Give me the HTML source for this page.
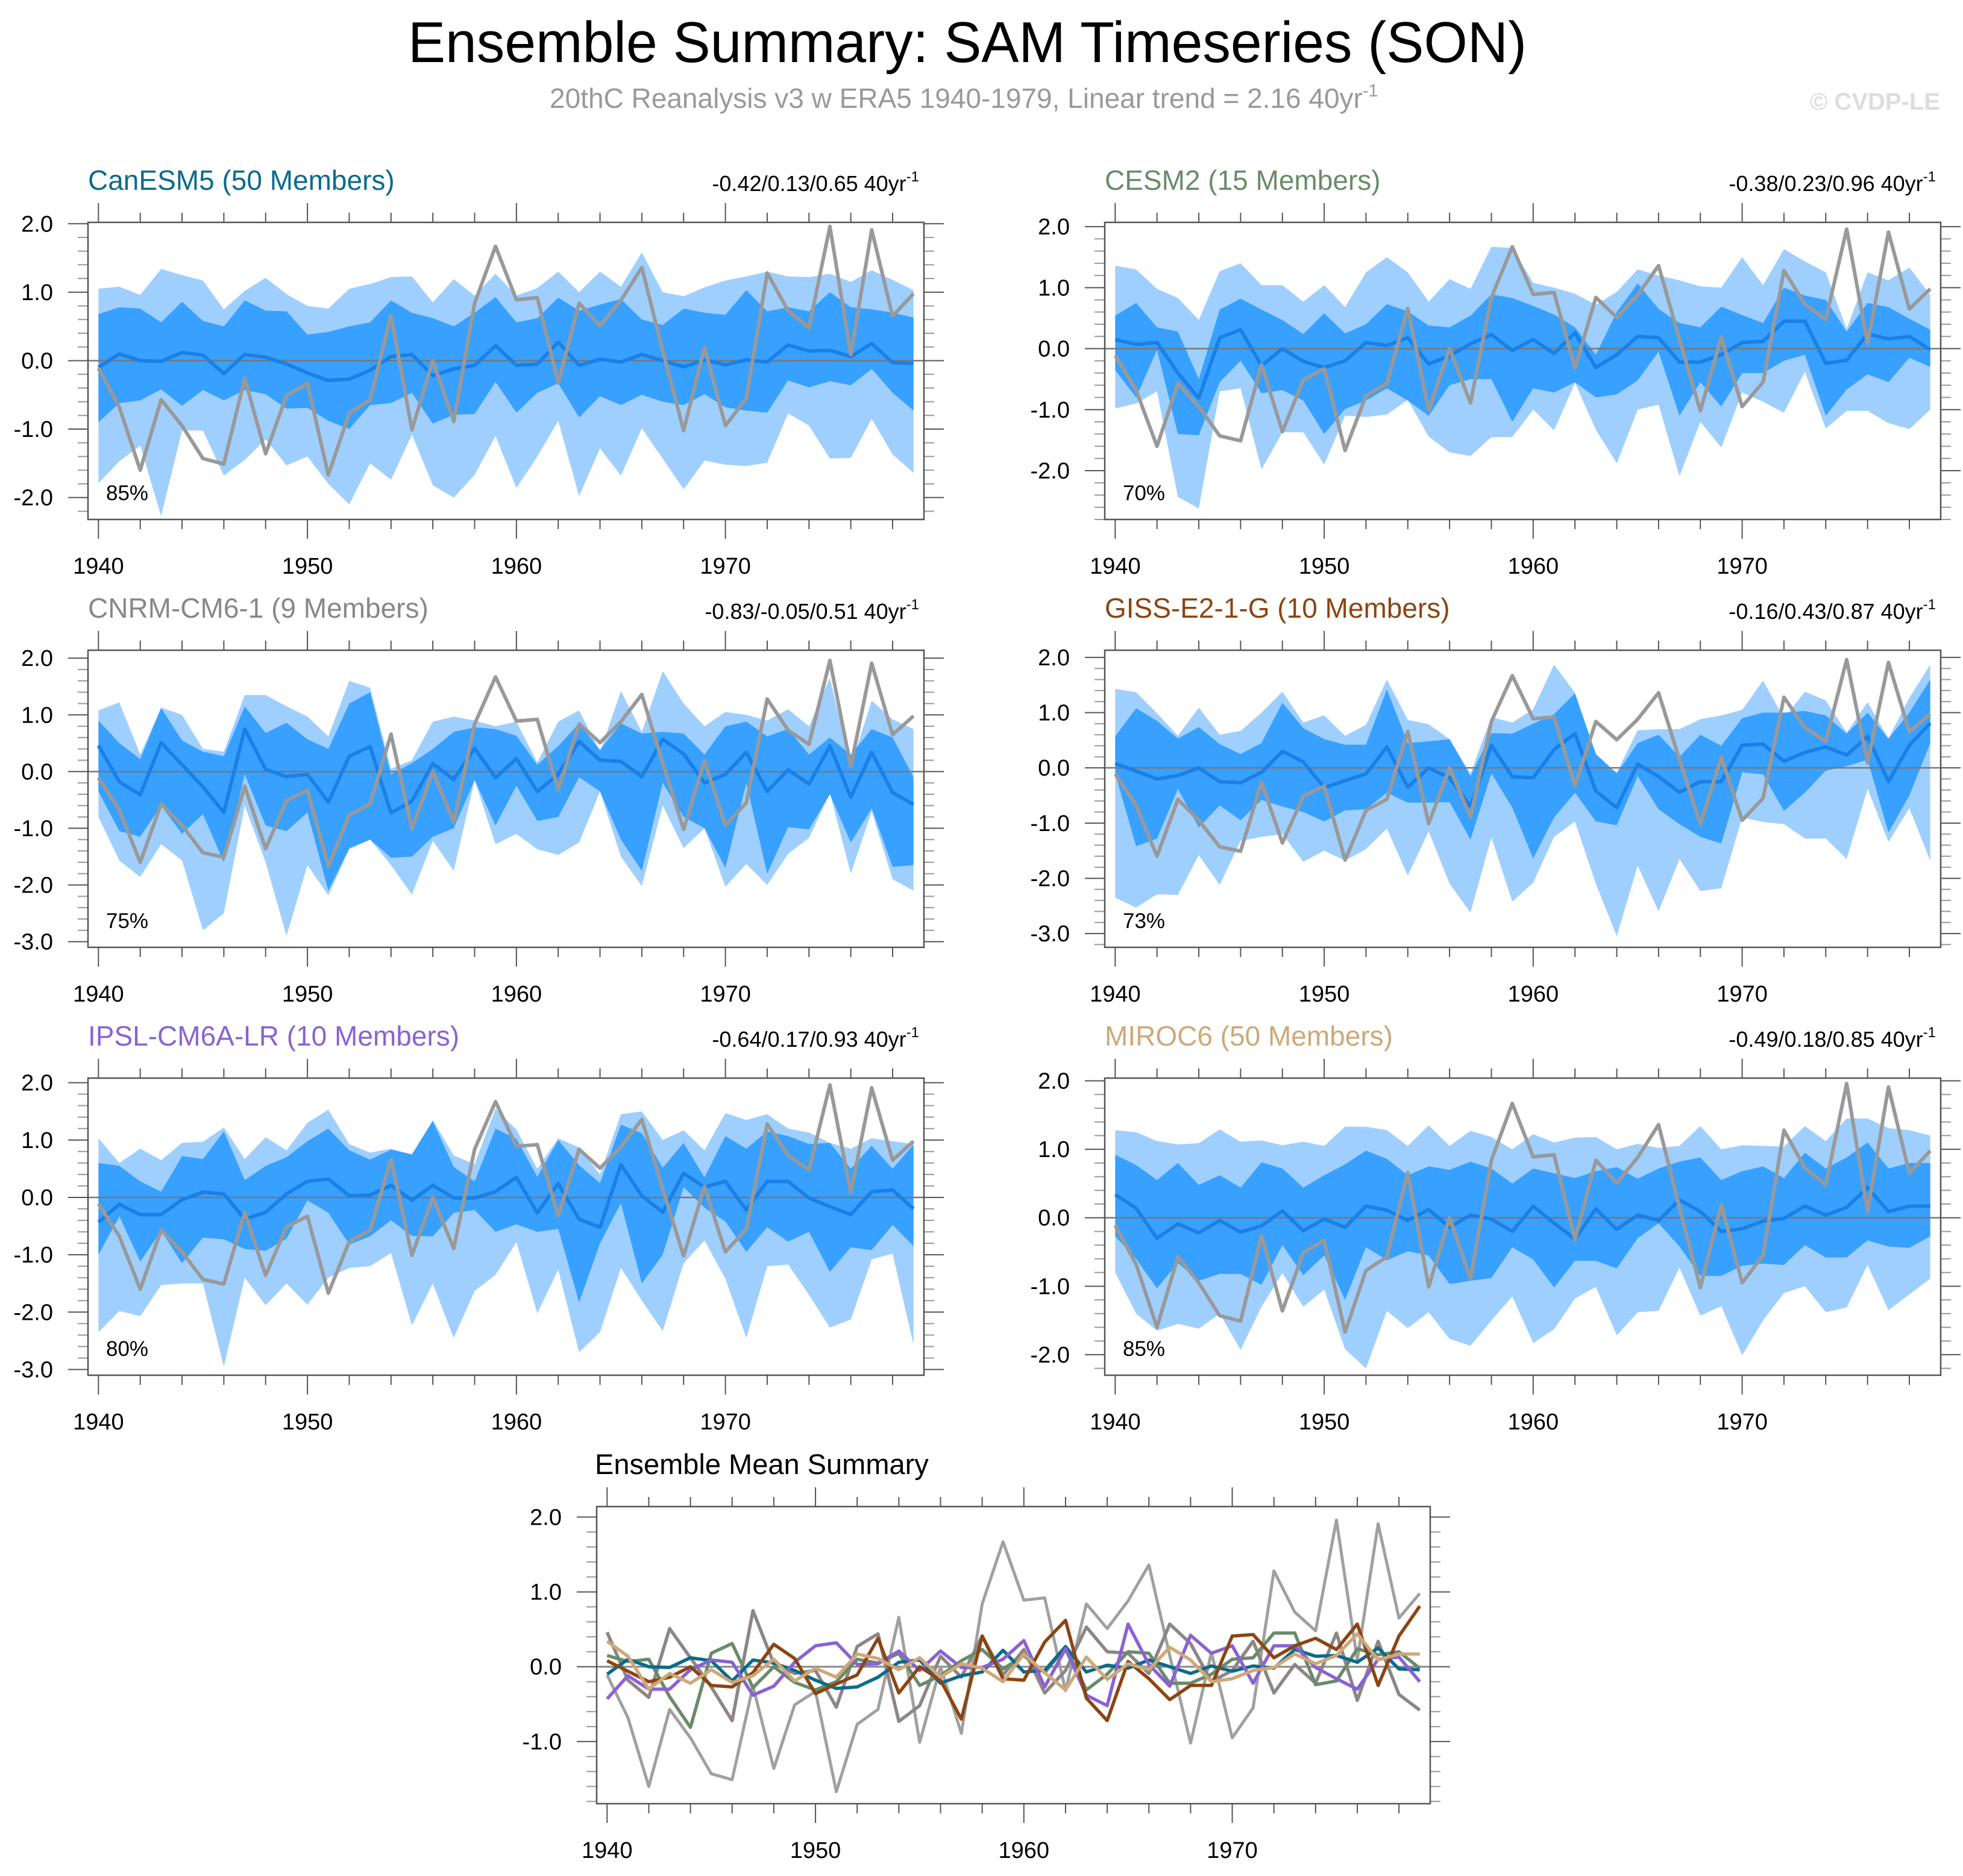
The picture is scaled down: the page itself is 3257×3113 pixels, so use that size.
<!DOCTYPE html>
<html><head><meta charset="utf-8"><title>Ensemble Summary: SAM Timeseries (SON)</title>
<style>
html,body{margin:0;padding:0;background:#fff;}
svg{display:block;font-family:"Liberation Sans",Arial,sans-serif;}
</style></head>
<body>
<svg id="fig" xmlns="http://www.w3.org/2000/svg" width="3257" height="3113" viewBox="0 0 3257 3113">
<rect x="0" y="0" width="3257" height="3113" fill="#fff"/>
<text x="677" y="103" font-size="96" textLength="1856" lengthAdjust="spacingAndGlyphs" fill="#000">Ensemble Summary: SAM Timeseries (SON)</text>
<text x="912" y="179" font-size="46" fill="#999">20thC Reanalysis v3 w ERA5 1940-1979, Linear trend = 2.16 40yr<tspan font-size="29" dy="-19">-1</tspan></text>
<text x="3219" y="182" font-size="40" font-weight="bold" fill="#ddd" text-anchor="end">© CVDP-LE</text>
<g id="panels"></g>
</svg>
<script>
const years = [];
for (let y = 1940; y <= 1979; y++) years.push(y);

const obs = [-0.11,-0.68,-1.6,-0.57,-0.95,-1.43,-1.51,-0.26,-1.36,-0.51,-0.33,-1.67,-0.77,-0.57,0.66,-1.01,0.0,-0.89,0.84,1.67,0.89,0.92,-0.32,0.84,0.51,0.88,1.36,0.15,-1.02,0.19,-0.95,-0.55,1.28,0.73,0.48,1.96,0.09,1.91,0.65,0.98];

const canMean = [-0.1,0.1,0.0,-0.01,0.12,0.08,-0.19,0.09,0.05,-0.05,-0.18,-0.29,-0.27,-0.14,0.06,0.09,-0.22,-0.12,-0.07,0.22,-0.07,-0.05,0.27,-0.07,0.02,-0.02,0.09,0.0,-0.09,0.01,-0.06,0.01,-0.02,0.23,0.14,0.15,0.06,0.25,-0.03,-0.04];
const canInHi = [0.68,0.78,0.76,0.56,0.86,0.58,0.5,0.88,0.73,0.72,0.38,0.42,0.5,0.56,0.88,0.7,0.62,0.5,0.7,0.93,0.56,0.62,0.92,0.73,0.82,0.9,0.6,0.52,0.76,0.7,0.67,1.03,0.72,0.78,0.72,1.0,0.78,0.75,0.7,0.63];
const canInLo = [-0.9,-0.62,-0.58,-0.42,-0.66,-0.43,-0.58,-0.43,-0.49,-0.7,-0.69,-0.88,-1.0,-0.65,-0.62,-0.47,-0.92,-0.79,-0.78,-0.31,-0.76,-0.47,-0.33,-0.83,-0.52,-0.65,-0.5,-0.6,-0.65,-0.49,-0.68,-0.73,-0.76,-0.29,-0.39,-0.3,-0.36,-0.12,-0.47,-0.73];
const canOutHi = [1.05,1.08,0.96,1.34,1.25,1.17,0.75,1.02,1.21,0.97,0.8,0.76,1.05,1.12,1.22,1.23,0.85,1.19,0.95,1.27,0.95,1.06,1.3,1.0,1.3,1.08,1.58,1.0,0.94,1.07,1.17,1.23,1.3,1.23,1.22,1.27,1.15,1.32,1.18,1.03];
const canOutLo = [-1.79,-1.47,-1.24,-2.27,-1.02,-1.02,-1.68,-1.45,-1.15,-1.53,-1.4,-1.8,-2.1,-1.5,-1.74,-1.08,-1.82,-2.0,-1.67,-1.1,-1.86,-1.4,-0.88,-1.98,-1.28,-1.68,-0.99,-1.43,-1.88,-1.46,-1.52,-1.54,-1.49,-0.77,-0.95,-1.43,-1.42,-0.85,-1.37,-1.64];

const cesMean = [0.15,0.07,0.1,-0.4,-0.81,0.18,0.31,-0.28,0.0,-0.21,-0.31,-0.2,0.1,0.05,0.18,-0.25,-0.12,0.08,0.23,-0.03,0.15,-0.08,0.26,-0.31,-0.1,0.2,0.18,-0.22,-0.22,-0.1,0.1,0.12,0.45,0.45,-0.24,-0.19,0.24,0.16,0.2,-0.02];
const cesInHi = [0.54,0.75,0.35,0.28,-0.5,0.64,0.82,0.64,0.47,0.24,0.58,0.25,0.4,0.73,0.61,0.38,0.35,0.54,0.89,0.83,0.7,0.56,0.35,-0.1,0.6,1.07,0.65,0.42,0.35,0.69,0.55,0.42,1.0,0.87,0.8,0.28,0.75,0.68,0.49,0.31];
const cesInLo = [-0.35,-0.8,-0.02,-1.4,-1.42,-0.55,-0.2,-0.73,-0.68,-0.85,-1.4,-0.99,-0.85,-0.65,-0.85,-1.1,-0.6,-0.5,-0.5,-1.2,-0.65,-0.72,-0.55,-0.8,-0.75,-0.52,-0.05,-1.1,-0.55,-0.95,-0.4,-0.4,-0.2,-0.1,-1.1,-0.67,-0.42,-0.55,-0.15,-0.3];
const cesOutHi = [1.36,1.3,0.98,0.83,0.47,1.27,1.4,1.04,1.04,0.77,1.04,0.68,1.25,1.5,1.25,0.77,1.14,0.98,1.67,1.65,1.08,1.0,0.9,0.72,0.93,1.3,1.2,1.12,1.02,1.0,1.5,1.04,1.63,1.43,1.25,0.32,1.25,1.12,1.33,0.88];
const cesOutLo = [-0.98,-0.9,-0.7,-2.43,-2.62,-0.7,-0.65,-1.98,-1.37,-1.37,-1.9,-1.1,-1.12,-1.08,-0.84,-1.44,-1.7,-1.76,-1.45,-1.45,-1.0,-1.34,-0.56,-1.33,-1.88,-1.0,-0.92,-2.09,-1.2,-1.62,-0.72,-0.87,-1.05,-0.38,-1.31,-1.02,-1.02,-1.22,-1.32,-1.0];

const cnrMean = [0.46,-0.18,-0.41,0.51,0.12,-0.27,-0.72,0.75,0.04,-0.09,-0.05,-0.54,0.27,0.44,-0.73,-0.52,0.14,-0.14,0.41,-0.11,0.23,-0.35,-0.05,0.53,0.2,0.18,-0.09,0.57,0.31,-0.2,-0.05,0.34,-0.35,0.03,-0.22,0.45,-0.45,0.34,-0.37,-0.58];
const cnrInHi = [0.9,0.5,0.22,1.12,0.55,0.35,0.27,1.15,0.68,0.86,0.57,0.4,1.2,1.4,-0.05,0.15,0.4,0.7,0.78,0.75,0.63,0.12,0.45,0.85,0.38,0.85,0.67,0.7,0.67,0.3,0.8,0.88,0.62,0.75,0.3,0.6,0.3,0.75,0.6,-0.1];
const cnrInLo = [-0.35,-1.05,-1.15,-0.6,-1.1,-0.75,-1.6,-0.05,-0.95,-1.05,-0.72,-2.1,-1.35,-1.2,-1.52,-1.5,-1.15,-1.0,-0.15,-0.95,-0.25,-0.87,-0.8,-0.1,-0.35,-1.2,-1.75,-0.2,-0.8,-1.0,-1.7,-0.2,-1.8,-0.98,-1.02,-0.4,-1.25,-0.65,-1.68,-1.65];
const cnrOutHi = [1.08,1.22,0.3,1.13,1.0,0.4,0.35,1.35,1.35,1.15,0.97,0.62,1.6,1.48,0.05,0.2,0.88,0.97,0.9,0.8,0.88,0.16,0.88,1.08,0.35,1.42,0.7,1.77,1.2,0.8,1.05,1.0,0.9,1.1,0.8,1.65,0.1,1.25,0.92,0.75];
const cnrOutLo = [-0.8,-1.57,-1.86,-1.28,-1.57,-2.8,-2.5,-0.6,-1.6,-2.9,-1.65,-2.18,-1.37,-1.2,-1.65,-2.17,-1.22,-1.75,-0.15,-1.28,-1.1,-1.37,-1.47,-1.25,-0.35,-1.5,-2.02,-0.6,-1.35,-1.0,-2.03,-1.63,-2.0,-1.45,-1.17,-0.38,-1.8,-0.7,-1.9,-2.1];

const gisMean = [0.08,-0.06,-0.2,-0.14,0.0,-0.25,-0.27,-0.08,0.3,0.11,-0.36,-0.23,-0.11,0.38,-0.35,0.0,-0.18,-0.7,0.41,-0.16,-0.18,0.33,0.62,-0.42,-0.72,0.07,-0.16,-0.44,-0.25,-0.25,0.41,0.43,0.12,0.28,0.38,0.23,0.57,-0.25,0.41,0.81];
const gisInHi = [0.57,1.08,0.85,0.53,0.74,0.43,0.25,0.45,1.18,0.72,0.52,0.42,0.42,1.42,0.45,0.48,0.52,-0.15,0.63,0.62,0.8,0.97,1.35,0.25,-0.1,0.45,0.6,0.2,0.6,0.4,0.9,1.0,1.0,1.03,0.95,0.62,1.0,0.53,1.0,1.6];
const gisInLo = [-0.1,-1.42,-1.28,-0.38,-1.08,-0.68,-0.95,-0.58,-0.7,-0.8,-0.97,-0.77,-0.75,-0.45,-0.63,-0.63,-0.62,-1.3,-0.1,-0.72,-1.64,-0.9,-0.45,-0.97,-1.04,-0.15,-0.75,-1.02,-1.25,-1.37,-0.08,-0.12,-0.78,-0.45,-0.05,0.03,0.15,-1.17,-0.5,0.45];
const gisOutHi = [1.43,1.37,0.99,0.58,1.09,0.6,0.67,1.0,1.38,0.82,0.95,0.58,0.78,1.6,0.87,0.79,0.52,-0.1,0.92,0.82,1.06,1.87,1.36,0.18,-0.08,0.68,0.7,0.7,0.88,0.95,1.05,1.58,0.9,1.38,1.22,0.64,1.19,0.53,1.27,1.87];
const gisOutLo = [-2.35,-2.53,-2.29,-2.3,-1.58,-2.12,-1.32,-1.25,-1.2,-1.7,-1.5,-1.68,-1.47,-1.1,-1.95,-1.15,-2.1,-2.62,-1.26,-2.42,-2.08,-1.25,-0.97,-2.1,-3.05,-1.77,-2.6,-1.65,-2.23,-2.18,-0.9,-0.98,-1.02,-1.28,-1.28,-1.65,-0.38,-1.34,-0.73,-1.68];

const ipsMean = [-0.43,-0.12,-0.3,-0.3,-0.04,0.09,0.06,-0.38,-0.26,0.06,0.28,0.32,0.03,0.04,0.21,-0.05,0.21,-0.01,-0.01,0.1,0.35,-0.27,0.24,-0.38,-0.52,0.57,0.03,-0.26,0.42,0.18,0.28,-0.22,0.28,0.28,-0.01,-0.16,-0.3,0.1,0.13,-0.2];
const ipsInHi = [0.6,0.55,0.28,0.1,0.72,0.67,1.15,0.3,0.55,0.7,0.98,1.2,0.82,0.66,0.83,0.75,1.33,0.53,0.28,1.2,1.02,0.36,1.0,0.56,0.25,1.27,1.12,0.52,0.95,0.35,1.07,0.85,1.15,1.07,0.93,0.95,0.5,0.9,0.5,0.92];
const ipsInLo = [-1.0,-0.33,-1.12,-0.58,-1.15,-0.7,-0.73,-0.9,-0.93,-0.72,-0.05,-0.27,-0.82,-0.68,-0.4,-0.67,-0.68,-0.27,-0.22,-0.6,-0.47,-0.6,-0.55,-1.83,-0.8,-0.1,-1.5,-1.0,0.18,-0.18,-0.42,-0.95,-0.52,-0.77,-0.6,-1.3,-0.87,-0.92,-0.48,-0.85];
const ipsOutHi = [1.03,0.6,0.85,0.65,0.95,0.97,1.22,0.67,1.05,0.82,1.3,1.53,0.93,0.78,0.85,0.75,1.35,0.73,0.58,1.55,1.18,0.5,1.03,0.87,0.4,1.45,1.5,1.0,1.17,0.82,1.47,1.35,1.45,1.2,1.13,0.95,0.85,1.03,0.98,0.93];
const ipsOutLo = [-2.35,-1.98,-2.07,-1.53,-1.5,-1.5,-2.95,-1.4,-1.88,-1.5,-1.87,-1.4,-1.23,-1.2,-0.97,-2.23,-1.5,-2.45,-1.63,-1.35,-0.78,-2.02,-1.26,-2.7,-2.35,-1.23,-1.8,-2.33,-1.15,-0.75,-1.42,-2.45,-1.2,-1.17,-1.7,-2.27,-2.13,-1.08,-0.98,-2.57];

const mirMean = [0.34,0.14,-0.3,-0.09,-0.22,-0.04,-0.21,-0.12,0.1,-0.19,-0.02,-0.14,0.17,0.11,-0.04,0.12,-0.14,0.04,-0.02,-0.2,0.17,-0.08,-0.31,0.13,-0.17,0.04,-0.04,0.26,0.09,-0.2,-0.16,-0.05,-0.01,0.17,0.04,0.15,0.44,0.09,0.17,0.17];
const mirInHi = [0.92,0.77,0.55,0.8,0.48,0.62,0.44,0.81,0.72,0.44,0.62,0.78,0.98,0.86,0.62,0.75,0.7,0.82,0.72,0.5,0.72,0.65,0.58,0.68,0.74,0.57,0.72,0.82,0.88,0.55,0.68,0.75,0.58,0.95,0.72,0.88,1.1,0.72,0.8,0.8];
const mirInLo = [-0.27,-0.6,-1.03,-0.66,-0.92,-0.82,-0.82,-0.98,-0.4,-0.84,-0.55,-1.2,-0.43,-0.62,-0.49,-0.55,-0.97,-0.92,-0.88,-0.43,-0.61,-1.02,-0.63,-0.63,-0.74,-0.3,-0.08,-0.42,-0.85,-0.85,-0.7,-0.67,-0.69,-0.4,-0.58,-0.58,-0.33,-0.42,-0.44,-0.27];
const mirOutHi = [1.28,1.25,1.12,1.07,1.09,1.29,1.11,1.13,1.06,1.11,1.05,1.33,1.33,1.28,1.05,1.35,1.05,1.27,1.18,1.0,1.22,1.1,1.17,1.18,1.0,1.08,1.02,1.05,1.34,1.0,1.06,1.05,1.04,1.34,1.12,1.45,1.45,1.31,1.28,1.2];
const mirOutLo = [-0.8,-1.4,-1.65,-1.55,-1.62,-1.4,-1.93,-1.3,-0.81,-1.3,-1.05,-1.92,-2.2,-1.36,-1.61,-1.38,-1.77,-1.87,-1.5,-1.15,-1.83,-1.63,-1.18,-1.01,-1.72,-1.38,-1.36,-0.73,-1.43,-1.29,-2.01,-1.5,-1.1,-1.0,-1.38,-1.31,-0.69,-1.35,-1.12,-0.89];

const xTickYears = [1940,1950,1960,1970];
const yTicks5 = [-2,-1,0,1,2];
const yTicks6 = [-3,-2,-1,0,1,2];
const yTicksSum = [-1,0,1,2];

const NS = 'http://www.w3.org/2000/svg';
const root = document.getElementById('panels');
function mk(tag, attrs, parent) {
  const e = document.createElementNS(NS, tag);
  for (const k in attrs) e.setAttribute(k, attrs[k]);
  (parent || root).appendChild(e);
  return e;
}
function fmt(v) { return v.toFixed(1); }

function drawAxes(g, P, ticks, slug) {
  const X = yr => P.x0 + (yr - 1939.5) / 40 * P.w;
  const Y = v => P.y0 + (P.ymax - v) / (P.ymax - P.ymin) * P.h;
  const ax = mk('g', {}, g);
  
  
  for (let yr = 1940; yr <= 1978; yr += 2) {
    const major = yr % 10 === 0;
    const L = major ? 32 : 16;
    const xx = X(yr);
    mk('line', {x1: xx, x2: xx, y1: P.y0, y2: P.y0 - L, stroke: '#555', 'stroke-width': 2}, ax);
    mk('line', {x1: xx, x2: xx, y1: P.y0 + P.h, y2: P.y0 + P.h + L, stroke: '#555', 'stroke-width': 2}, ax);
  }
  xTickYears.forEach(yr => {
    const t = mk('text', {x: X(yr), y: P.y0 + P.h + 90, 'font-size': 38, 'text-anchor': 'middle', fill: '#000'}, ax);
    t.textContent = String(yr);
    
    
  });
  for (let k = Math.ceil(P.ymin * 5); k <= Math.floor(P.ymax * 5); k++) {
    const v = k / 5;
    const major = Math.abs(v - Math.round(v)) < 1e-6;
    const L = major ? 33 : 17;
    const yy = Y(v);
    mk('line', {x1: P.x0, x2: P.x0 - L, y1: yy, y2: yy, stroke: major ? '#555' : '#999', 'stroke-width': 2}, ax);
    mk('line', {x1: P.x0 + P.w, x2: P.x0 + P.w + L, y1: yy, y2: yy, stroke: major ? '#555' : '#999', 'stroke-width': 2}, ax);
  }
  ticks.forEach(v => {
    const t = mk('text', {x: P.x0 - 58, y: Y(v) + 13, 'font-size': 38, 'text-anchor': 'end', fill: '#000'}, ax);
    t.textContent = fmt(v);
    
    
  });
  return {X, Y};
}

function poly(X, Y, hi, lo) {
  const a = hi.map((v, i) => X(years[i]) + ',' + Y(v));
  const b = lo.map((v, i) => X(years[i]) + ',' + Y(v)).reverse();
  return a.concat(b).join(' ');
}
function line(X, Y, arr) {
  return arr.map((v, i) => X(years[i]) + ',' + Y(v)).join(' ');
}

const panels = [
  {slug:'canesm5', title:'CanESM5 (50 Members)', color:'#0b6b8c', trend:'-0.42/0.13/0.65 40yr', pct:'85%', x0:146, y0:369, ymin:-2.32, ymax:2.02, ticks:yTicks5, mean:canMean, ih:canInHi, il:canInLo, oh:canOutHi, ol:canOutLo},
  {slug:'cesm2', title:'CESM2 (15 Members)', color:'#6a8b6a', trend:'-0.38/0.23/0.96 40yr', pct:'70%', x0:1833, y0:369, ymin:-2.80, ymax:2.07, ticks:yTicks5, mean:cesMean, ih:cesInHi, il:cesInLo, oh:cesOutHi, ol:cesOutLo},
  {slug:'cnrm-cm6-1', title:'CNRM-CM6-1 (9 Members)', color:'#8c8686', trend:'-0.83/-0.05/0.51 40yr', pct:'75%', x0:146, y0:1079, ymin:-3.1, ymax:2.14, ticks:yTicks6, mean:cnrMean, ih:cnrInHi, il:cnrInLo, oh:cnrOutHi, ol:cnrOutLo},
  {slug:'giss-e2-1-g', title:'GISS-E2-1-G (10 Members)', color:'#8b4513', trend:'-0.16/0.43/0.87 40yr', pct:'73%', x0:1833, y0:1079, ymin:-3.25, ymax:2.13, ticks:yTicks6, mean:gisMean, ih:gisInHi, il:gisInLo, oh:gisOutHi, ol:gisOutLo},
  {slug:'ipsl-cm6a-lr', title:'IPSL-CM6A-LR (10 Members)', color:'#8a62d2', trend:'-0.64/0.17/0.93 40yr', pct:'80%', x0:146, y0:1789, ymin:-3.1, ymax:2.08, ticks:yTicks6, mean:ipsMean, ih:ipsInHi, il:ipsInLo, oh:ipsOutHi, ol:ipsOutLo},
  {slug:'miroc6', title:'MIROC6 (50 Members)', color:'#cfa878', trend:'-0.49/0.18/0.85 40yr', pct:'85%', x0:1833, y0:1789, ymin:-2.3, ymax:2.04, ticks:yTicks5, mean:mirMean, ih:mirInHi, il:mirInLo, oh:mirOutHi, ol:mirOutLo}
];

panels.forEach(P => {
  P.w = 1387; P.h = 493;
  const g = mk('g', {});
  
  
  const {X, Y} = drawAxes(g, P, P.ticks, P.slug);
  const outer = mk('polygon', {points: poly(X, Y, P.oh, P.ol), fill: '#9fcfff'}, g);
  
  
  const inner = mk('polygon', {points: poly(X, Y, P.ih, P.il), fill: '#38a0ff'}, g);
  
  
  mk('line', {x1: P.x0, x2: P.x0 + P.w, y1: Y(0), y2: Y(0), stroke: '#777', 'stroke-width': 2.5}, g);
  const m = mk('polyline', {points: line(X, Y, P.mean), fill: 'none', stroke: '#1a80e8', 'stroke-width': 6, 'stroke-linejoin': 'round'}, g);
  
  
  const o = mk('polyline', {points: line(X, Y, obs), fill: 'none', stroke: '#999', 'stroke-width': 6, 'stroke-linejoin': 'round'}, g);
  
  
  mk('rect', {x: P.x0, y: P.y0, width: P.w, height: P.h, fill: 'none', stroke: '#555', 'stroke-width': 2.5}, g);
  const t = mk('text', {x: P.x0, y: P.y0 - 54, 'font-size': 46, fill: P.color}, g);
  t.textContent = P.title;
  
  
  const tr = mk('text', {x: P.x0 + P.w - 8, y: P.y0 - 52, 'font-size': 36, fill: '#000', 'text-anchor': 'end'}, g);
  tr.textContent = P.trend;
  const sup = mk('tspan', {'font-size': 24, dy: -16}, tr);
  sup.textContent = '-1';
  
  
  const pc = mk('text', {x: P.x0 + 30, y: P.y0 + P.h - 32, 'font-size': 35, fill: '#000'}, g);
  pc.textContent = P.pct;
  
  
});

const S = {slug:'summary', x0:990, y0:2500, w:1383, h:493, ymin:-1.83, ymax:2.14};
const sg = mk('g', {});


const SA = drawAxes(sg, S, yTicksSum, 'summary');
mk('line', {x1: S.x0, x2: S.x0 + S.w, y1: SA.Y(0), y2: SA.Y(0), stroke: '#888', 'stroke-width': 3}, sg);
const so = mk('polyline', {points: line(SA.X, SA.Y, obs), fill: 'none', stroke: '#a0a0a0', 'stroke-width': 5, 'stroke-linejoin': 'round'}, sg);


const order = [2, 1, 0, 4, 3, 5];
order.forEach(i => {
  const P = panels[i];
  const l = mk('polyline', {points: line(SA.X, SA.Y, P.mean), fill: 'none', stroke: P.color, 'stroke-width': 5.5, 'stroke-linejoin': 'round'}, sg);
  
  
});
mk('rect', {x: S.x0, y: S.y0, width: S.w, height: S.h, fill: 'none', stroke: '#555', 'stroke-width': 2.5}, sg);
const st = mk('text', {x: 987, y: 2446, 'font-size': 47, fill: '#000'}, sg);
st.textContent = 'Ensemble Mean Summary';


</script>
</body></html>
